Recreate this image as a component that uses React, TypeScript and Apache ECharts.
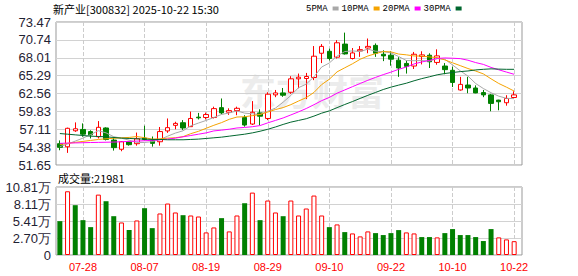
import React, { useEffect, useRef } from "react";
import * as echarts from "echarts";

const stockName = "新产业";
const stockCode = "300832";
const stampTime = "2025-10-22 15:30";

const dates = [
  "07-23","07-24","07-25","07-28","07-29","07-30","07-31","08-01","08-04","08-05",
  "08-06","08-07","08-08","08-11","08-12","08-13","08-14","08-15","08-18","08-19",
  "08-20","08-21","08-22","08-25","08-26","08-27","08-28","08-29","09-01","09-02",
  "09-03","09-04","09-05","09-08","09-09","09-10","09-11","09-12","09-15","09-16",
  "09-17","09-18","09-19","09-22","09-23","09-24","09-25","09-26","09-29","09-30",
  "10-09","10-10","10-13","10-14","10-15","10-16","10-17","10-20","10-21","10-22",
];

// [open, close, low, high]
const ohlc = [
  [54.9, 54.35, 53.9, 55.4],
  [54.43, 57.25, 53.5, 57.35],
  [56.87, 57.18, 56.7, 58.15],
  [57.08, 56.35, 55.96, 58.0],
  [56.75, 56.25, 55.7, 56.95],
  [55.96, 57.4, 55.7, 58.35],
  [57.3, 55.55, 55.4, 57.4],
  [55.45, 54.3, 53.85, 55.9],
  [54.05, 55.2, 53.75, 55.3],
  [55.15, 54.75, 54.6, 55.3],
  [54.9, 55.65, 54.6, 56.6],
  [55.75, 55.55, 55.4, 57.65],
  [55.45, 54.95, 54.45, 56.0],
  [55.2, 56.75, 54.6, 57.45],
  [56.85, 57.35, 56.55, 58.75],
  [57.7, 58.0, 57.1, 58.25],
  [58.1, 57.3, 57.0, 58.5],
  [57.5, 58.75, 57.45, 59.8],
  [58.95, 58.85, 58.6, 59.6],
  [58.9, 59.35, 58.6, 59.65],
  [58.9, 60.25, 58.75, 60.55],
  [60.4, 59.6, 59.4, 61.8],
  [59.7, 59.95, 59.3, 60.3],
  [59.95, 60.3, 59.25, 60.55],
  [58.9, 57.75, 57.5, 59.25],
  [57.9, 59.7, 57.75, 61.4],
  [59.6, 59.1, 57.75, 60.15],
  [58.75, 62.45, 58.5, 62.75],
  [62.35, 62.65, 62.0, 63.1],
  [62.65, 62.3, 62.05, 63.4],
  [62.75, 64.8, 62.5, 65.2],
  [64.8, 65.05, 63.35, 65.6],
  [64.85, 65.15, 61.7, 65.7],
  [65.0, 68.25, 64.6, 69.8],
  [68.7, 69.75, 67.2, 70.1],
  [69.0, 67.9, 67.6, 69.4],
  [68.1, 70.3, 67.9, 70.7],
  [70.1, 68.6, 68.5, 71.85],
  [67.9, 68.75, 67.75, 69.5],
  [69.05, 69.25, 68.15, 69.8],
  [69.5, 69.75, 68.7, 70.95],
  [69.9, 68.7, 68.15, 70.2],
  [68.55, 68.3, 67.5, 69.15],
  [68.4, 67.8, 66.8, 69.0],
  [67.65, 66.45, 65.1, 68.1],
  [67.15, 66.7, 65.6, 67.6],
  [66.75, 68.55, 66.3, 68.9],
  [68.2, 68.45, 67.0, 69.0],
  [68.4, 67.4, 66.45, 68.7],
  [67.3, 68.3, 66.95, 69.3],
  [66.75, 66.2, 65.5, 67.2],
  [66.1, 64.25, 63.55, 66.65],
  [63.1, 63.95, 63.0, 65.1],
  [63.85, 63.4, 62.6, 65.1],
  [63.4, 62.65, 62.6, 63.8],
  [62.7, 62.35, 62.0, 63.1],
  [62.35, 61.05, 59.85, 62.5],
  [61.55, 61.3, 60.0, 61.6],
  [61.15, 61.8, 60.7, 62.3],
  [61.95, 62.35, 61.8, 62.9],
];

// volume (shares, 手)
const volumes = [
  53800, 101300, 79200, 55400, 44300, 96000, 85500, 61700, 51700, 39600,
  54900, 74400, 42700, 66000, 81800, 67600, 63300, 62800, 61200, 35900,
  43800, 58600, 37500, 62800, 82300, 99200, 55400, 86600, 67600, 61700,
  86600, 62800, 73900, 94500, 62800, 44300, 48600, 36400, 34300, 29600,
  37500, 34800, 31700, 34800, 39600, 35900, 34300, 28500, 28500, 28000,
  34800, 41200, 31700, 31700, 28500, 22200, 41200, 28000, 24800, 21981,
];

const ma5 = [
  54.45, 54.85, 55.3, 55.75, 56.28, 56.89, 56.55, 55.97, 55.74, 55.44,
  55.09, 55.09, 55.22, 55.53, 56.05, 56.52, 56.87, 57.63, 58.05, 58.45,
  58.9, 59.36, 59.6, 59.89, 59.57, 59.46, 59.36, 59.86, 60.33, 61.24,
  62.26, 63.45, 63.99, 65.11, 66.6, 67.22, 68.27, 68.96, 69.06, 68.96,
  69.33, 69.01, 68.95, 68.76, 68.2, 67.59, 67.56, 67.59, 67.51, 67.88,
  67.78, 66.92, 66.02, 65.22, 64.09, 63.32, 62.68, 62.15, 61.83, 61.77,
];
const ma10 = [
  54.75, 54.95, 55.1, 55.25, 55.4, 55.55, 55.65, 55.72, 55.8, 55.86,
  55.99, 55.82, 55.6, 55.64, 55.75, 55.81, 55.98, 56.43, 56.79, 57.25,
  57.71, 58.12, 58.62, 58.97, 59.01, 59.18, 59.36, 59.73, 60.11, 60.41,
  60.86, 61.41, 61.93, 62.72, 63.92, 64.74, 65.86, 66.48, 67.09, 67.78,
  68.28, 68.64, 68.96, 68.91, 68.58, 68.46, 68.29, 68.27, 68.14, 68.04,
  67.69, 67.24, 66.81, 66.37, 65.99, 65.55, 64.8, 64.09, 63.53, 62.93,
];
const ma20 = [
  54.95, 55.0, 55.02, 55.05, 55.08, 55.1, 55.12, 55.15, 55.2, 55.25,
  55.3, 55.35, 55.42, 55.5, 55.6, 55.75, 55.95, 56.15, 56.35, 56.55,
  56.85, 56.97, 57.11, 57.3, 57.38, 57.49, 57.67, 58.08, 58.45, 58.83,
  59.29, 59.76, 60.27, 60.85, 61.47, 61.96, 62.61, 63.1, 63.6, 64.09,
  64.57, 65.02, 65.44, 65.82, 66.25, 66.6, 67.07, 67.37, 67.61, 67.91,
  67.98, 67.94, 67.88, 67.64, 67.28, 67.0, 66.54, 66.18, 65.83, 65.49,
];
const ma30 = [
  56.45, 56.35, 56.25, 56.15, 56.05, 56.0, 55.95, 55.85, 55.75, 55.7,
  55.65, 55.6, 55.55, 55.55, 55.5, 55.5, 55.5, 55.55, 55.6, 55.7,
  55.8, 55.9, 56.05, 56.2, 56.35, 56.55, 56.8, 57.1, 57.45, 57.84,
  58.19, 58.45, 58.71, 59.11, 59.56, 59.91, 60.4, 60.88, 61.33, 61.81,
  62.28, 62.72, 63.17, 63.53, 63.84, 64.13, 64.5, 64.83, 65.11, 65.41,
  65.61, 65.76, 65.9, 66.0, 66.16, 66.25, 66.32, 66.28, 66.25, 66.25,
];

const priceTicks = ["51.65", "54.38", "57.11", "59.83", "62.56", "65.29", "68.01", "70.74", "73.47"];
const volTicks = ["0", "2.70万", "5.41万", "8.11万", "10.81万"];
const labelDates = ["07-28", "08-07", "08-19", "08-29", "09-10", "09-22", "10-10", "10-22"];
const maNames = ["5PMA", "10PMA", "20PMA", "30PMA"];
const maColors = ["#a8a8a8", "#f5a300", "#ff00ff", "#00662e"];

const RED = "#ff0000";
const GREEN = "#008000";

export default function App() {
  const ref = useRef<HTMLDivElement>(null);

  useEffect(() => {
    if (!ref.current) return;
    const chart = echarts.init(ref.current, null, { renderer: "svg" });

    const priceMin = parseFloat(priceTicks[0]);
    const priceMax = parseFloat(priceTicks[priceTicks.length - 1]);
    const volMax = parseFloat(volTicks[volTicks.length - 1]) * 10000;
    const closes = ohlc.map((d) => d[1]);
    const volUp = closes.map((c, i) => (i === 0 ? c >= ohlc[0][0] : c > closes[i - 1]));
    const isLabel = (_i: number, v: string) => labelDates.includes(v);
    const maSeries = [ma5, ma10, ma20, ma30];

    const labelFont = { fontFamily: "Liberation Sans", fontSize: 13, color: "#1f2233" };
    const dashed = { show: true, interval: isLabel, alignWithLabel: true, lineStyle: { type: "dashed", color: "#cccccc", width: 1 } };

    chart.setOption({
      animation: false,
      backgroundColor: "#ffffff",
      grid: [
        { left: 56, top: 22, width: 466, height: 143, show: true, borderColor: "#999999", borderWidth: 1 },
        { left: 56, top: 22, width: 462, height: 143 },
        { left: 56, top: 187, width: 466, height: 68, show: true, borderColor: "#999999", borderWidth: 1 },
        { left: 56, top: 187, width: 462, height: 68 },
      ],
      legend: {
        data: maNames,
        left: 306,
        top: 4,
        padding: 0,
        align: "right",
        icon: "rect",
        itemWidth: 6,
        itemHeight: 4,
        itemGap: 3,
        textStyle: { fontFamily: "Liberation Mono", fontSize: 9, color: "#000" },
      },
      xAxis: [
        { gridIndex: 0, type: "value", min: 0, max: 1, show: false },
        {
          gridIndex: 1, type: "category", data: dates, boundaryGap: true,
          axisLine: { show: false }, axisTick: { show: false }, axisLabel: { show: false },
          splitLine: dashed,
        },
        { gridIndex: 2, type: "value", min: 0, max: 1, show: false },
        {
          gridIndex: 3, type: "category", data: dates, boundaryGap: true,
          axisLine: { show: false }, axisTick: { show: false },
          axisLabel: { show: true, interval: isLabel, color: RED, fontSize: 11, fontFamily: "Liberation Sans", margin: 6 },
          splitLine: dashed,
        },
      ],
      yAxis: [
        {
          gridIndex: 0, type: "value", min: 0, max: priceTicks.length - 1, interval: 1,
          axisLine: { show: false }, axisTick: { show: false },
          axisLabel: { ...labelFont, margin: 5, showMinLabel: true, showMaxLabel: true, formatter: (v: number) => priceTicks[Math.round(v)] },
          splitLine: { show: true, lineStyle: { color: "#d2d2d2", width: 1 } },
        },
        { gridIndex: 1, type: "value", min: priceMin, max: priceMax, show: false },
        {
          gridIndex: 2, type: "value", min: 0, max: volTicks.length - 1, interval: 1,
          axisLine: { show: false }, axisTick: { show: false },
          axisLabel: { ...labelFont, margin: 5, showMinLabel: true, showMaxLabel: true, formatter: (v: number) => volTicks[Math.round(v)] },
          splitLine: { show: true, lineStyle: { color: "#d2d2d2", width: 1 } },
        },
        { gridIndex: 3, type: "value", min: 0, max: volMax, show: false },
      ],
      graphic: [
        {
          type: "text", left: 240, top: 72, z: 0, silent: true,
          style: { text: "东方财富", fontSize: 36, fontWeight: "bold", fontFamily: "Noto Sans CJK SC", fill: "#ececec" },
        },
        {
          type: "text", left: 53, top: 3,
          style: { text: `${stockName}[${stockCode}] ${stampTime}`, fontSize: 11, fontFamily: "Noto Sans CJK SC", fill: "#000" },
        },
        {
          type: "text", left: 58, top: 172,
          style: { text: `成交量:${volumes[volumes.length - 1]}`, fontSize: 11, fontFamily: "Noto Sans CJK SC", fill: "#000" },
        },
      ],
      series: [
        {
          type: "candlestick", xAxisIndex: 1, yAxisIndex: 1, data: ohlc, barWidth: 5,
          itemStyle: { color: "#ffffff", color0: GREEN, borderColor: RED, borderColor0: GREEN, borderWidth: 1 },
        },
        ...maNames.map((name, k) => ({
          name, type: "line", xAxisIndex: 1, yAxisIndex: 1, data: maSeries[k],
          symbol: "none", color: maColors[k], lineStyle: { width: 1, color: maColors[k] },
          itemStyle: { color: maColors[k] },
        })),
        {
          type: "bar", xAxisIndex: 3, yAxisIndex: 3, barWidth: 5,
          data: volumes.map((v, i) => ({
            value: v,
            itemStyle: volUp[i]
              ? { color: "#ffffff", borderColor: RED, borderWidth: 1 }
              : { color: GREEN, borderColor: GREEN, borderWidth: 0 },
          })),
        },
      ],
    });

    return () => chart.dispose();
  }, []);

  return (
    <div
      ref={ref}
      style={{ position: "absolute", left: 0, top: 0, width: 578, height: 276, background: "#fff" }}
    />
  );
}
